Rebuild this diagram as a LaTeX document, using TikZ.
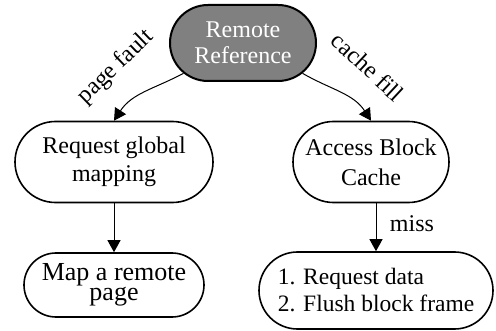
\documentclass[tikz,border=0pt]{standalone}
\usepackage{fontspec}
\setmainfont{Liberation Serif}
\usetikzlibrary{shapes.misc,arrows.meta}
\begin{document}
\begin{tikzpicture}[x=1pt,y=1pt,
  pill/.style={rounded rectangle, draw=black, line width=1.6pt, align=center,
    font=\fontsize{24}{28}\selectfont, inner sep=0pt},
  flow/.style={-{Triangle[width=13pt,length=12pt]}, line width=1pt},
  lbl/.style={font=\fontsize{24}{28}\selectfont, inner sep=0pt}]
\useasboundingbox (0,0) rectangle (496,330);
\node[pill, fill=black!50, text=white, line width=2pt,
  minimum width=146pt, minimum height=76pt, font=\fontsize{24}{26}\selectfont]
  (rr) at (243,287) {Remote\\Reference};
\node[pill, minimum width=198pt, minimum height=81pt] (rg) at (114,168) {Request global\\mapping};
\node[pill, minimum width=156pt, minimum height=81pt, font=\fontsize{24}{30}\selectfont]
  (ab) at (371,168) {Access Block\\Cache};
\node[pill, minimum width=180pt, minimum height=64pt,
  font=\fontsize{26}{20}\selectfont] (mp) at (114,45) {Map a remote\\page};
\node[pill, minimum width=234pt, minimum height=77pt, align=left,
  font=\fontsize{23.5}{27}\selectfont] (rd) at (376,39.5)
  {1. Request data\\2. Flush block frame};
\draw[flow] (rr.207) to[out=208,in=57] (rg.north);
\draw[flow] (rr.-27) to[out=-30,in=123] (ab.north);
\draw[flow] (rg.south) -- (mp.north);
\draw[flow] (ab.south -| rd.north) -- (rd.north);
\node[lbl, rotate=44] (pf) at (116,263) {page fault};
\node[lbl, rotate=-43] (cf) at (368,263) {cache fill};
\node[lbl] (ms) at (412,106) {miss};
\end{tikzpicture}
\end{document}
